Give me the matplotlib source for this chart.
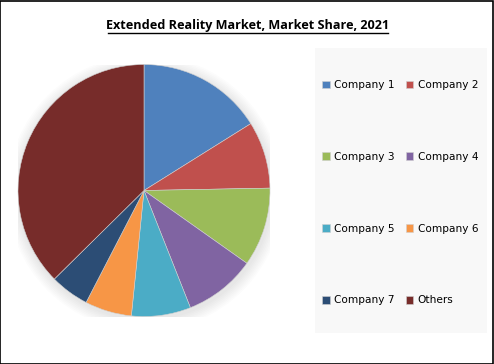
import matplotlib
matplotlib.use("Agg")
import matplotlib.pyplot as plt
from matplotlib.patches import Rectangle, Circle

labels = ["Company 1", "Company 2", "Company 3", "Company 4",
          "Company 5", "Company 6", "Company 7", "Others"]
shares = [16.1, 8.6, 10.1, 9.2, 7.6, 6.0, 5.0, 37.4]
colors = ["#4F81BD", "#C0504D", "#9BBB59", "#8064A2",
          "#4BACC6", "#F79646", "#2C4D75", "#772C2A"]

W, H = 494, 364
fig = plt.figure(figsize=(W / 100, H / 100), dpi=100)

# outer border
fig.patches.append(Rectangle((0.001, 0.001), 0.997, 0.996, transform=fig.transFigure,
                             fill=False, edgecolor="black", linewidth=1.2))

# title, underlined
fig.text(248 / W, 1 - 25 / H, "Extended Reality Market, Market Share, 2021",
         ha="center", va="center", fontsize=9.1, fontweight="bold",
         family="Open Sans")
fig.add_artist(plt.Line2D([108 / W, 388 / W], [1 - 33 / H, 1 - 33 / H],
                          color="black", linewidth=1.0))

# legend background box
fig.patches.append(Rectangle((315 / W, 1 - 333 / H), 172 / W, 285 / H,
                             transform=fig.transFigure, facecolor="#f8f8f8",
                             edgecolor="none", zorder=0))

cx, cy, r = 144, 190.5, 126
ax = fig.add_axes([(cx - r) / W, (H - cy - r) / H, 2 * r / W, 2 * r / H])

wedges, _ = ax.pie(shares, colors=colors, startangle=90, counterclock=False,
                   radius=1.0, wedgeprops=dict(linewidth=0.4, edgecolor="#d0d0d0"))

# soft shadow
for i in range(8):
    ax.add_patch(Circle((0.01, -0.02), 1.0 + 0.012 * (8 - i), color="black",
                        alpha=0.012, linewidth=0, zorder=0))

ax.set_xlim(-1, 1)
ax.set_ylim(-1, 1)
ax.set_aspect("equal")
ax.axis("off")

# legend filled row by row (matplotlib fills columns first)
order = [0, 2, 4, 6, 1, 3, 5, 7]
fig.legend([wedges[i] for i in order], [labels[i] for i in order], ncol=2,
           loc="upper left", bbox_to_anchor=(318 / W, 1 - 76 / H), frameon=False,
           fontsize=7.6, handlelength=0.75, handleheight=0.75,
           handletextpad=0.4, columnspacing=1.0, labelspacing=5.85,
           borderaxespad=0)

fig.savefig("out.png", dpi=100)
